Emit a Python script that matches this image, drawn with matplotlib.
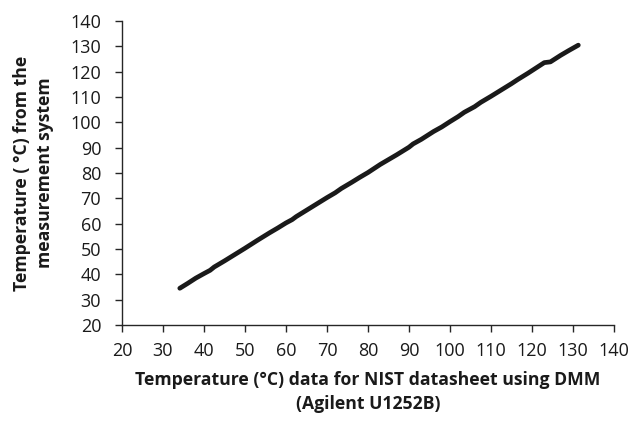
import matplotlib
matplotlib.use("Agg")
import matplotlib.pyplot as plt

plt.rcParams['font.family'] = ['Open Sans', 'DejaVu Sans']

# Data
x_nist = [34.1, 36, 38, 40, 41.5, 42.5, 45, 48, 50, 53, 56, 58, 60, 61.5, 62.5,
          65, 68, 70, 72, 73.5, 76, 78, 80, 81.5, 83, 85, 87, 90, 91, 93, 96,
          98, 100, 102, 103.5, 106, 107.5, 110, 112, 115, 116.5, 119, 121, 123,
          124.5, 127, 129, 131.3]
y_meas = [34.5, 36.4, 38.5, 40.3, 41.6, 42.9, 45.3, 48.3, 50.3, 53.4, 56.4, 58.3,
          60.3, 61.6, 62.8, 65.3, 68.3, 70.3, 72.2, 73.9, 76.3, 78.3, 80.2, 81.8,
          83.4, 85.3, 87.2, 90.2, 91.5, 93.3, 96.4, 98.2, 100.3, 102.3, 104.0,
          106.2, 107.9, 110.3, 112.3, 115.3, 116.9, 119.4, 121.5, 123.6, 123.9,
          126.5, 128.4, 130.5]
x_ticks = [20, 30, 40, 50, 60, 70, 80, 90, 100, 110, 120, 130, 140]
y_ticks = [20, 30, 40, 50, 60, 70, 80, 90, 100, 110, 120, 130, 140]

fig = plt.figure(figsize=(6.32, 4.22), dpi=100)
ax = fig.add_axes([0.193, 0.2299, 0.7785, 0.7201])

ax.plot(x_nist, y_meas, color='#1a1a1a', linewidth=3.4, solid_capstyle='round',
        solid_joinstyle='round')

ax.set_xlim(20, 140)
ax.set_ylim(20, 140)
ax.set_xticks(x_ticks)
ax.set_yticks(y_ticks)
for s in ['top', 'right']:
    ax.spines[s].set_visible(False)
for s in ['left', 'bottom']:
    ax.spines[s].set_color('#262626')
    ax.spines[s].set_linewidth(1.0)
ax.tick_params(direction='out', length=5, width=1.0, color='#262626',
               labelsize=13, labelcolor='#1a1a1a')
ax.tick_params(axis='x', pad=7)
ax.tick_params(axis='y', pad=10)

ax.set_xlabel('Temperature (°C) data for NIST datasheet using DMM\n(Agilent U1252B)',
              fontsize=12.7, fontweight='bold', color='#1a1a1a', labelpad=8,
              linespacing=1.45)
ax.set_ylabel('Temperature ( °C) from the\nmeasurement system',
              fontsize=12.7, fontweight='bold', color='#1a1a1a', labelpad=12,
              linespacing=1.35)

fig.savefig('out.png', dpi=100, facecolor='white')
